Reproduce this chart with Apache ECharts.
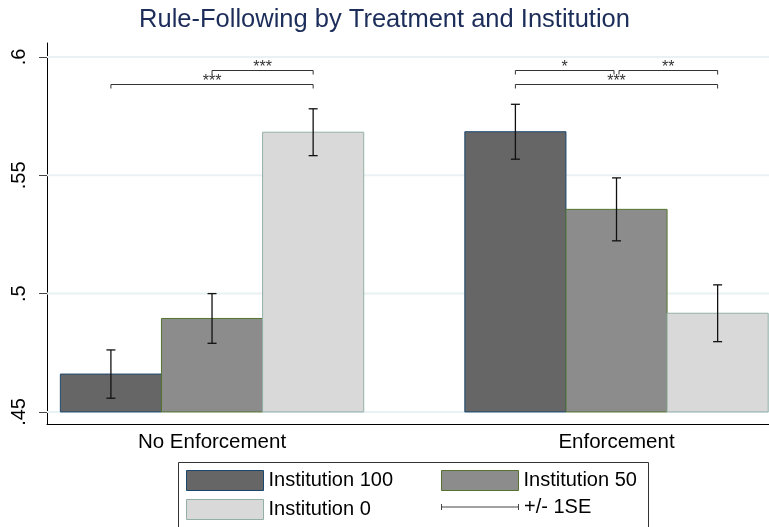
<!DOCTYPE html>
<html>
<head>
<meta charset="utf-8">
<title>Rule-Following by Treatment and Institution</title>
<script src="https://cdn.jsdelivr.net/npm/echarts@6/dist/echarts.min.js"></script>
<style>
  html, body { margin: 0; padding: 0; background: #fff; }
  #chart { width: 769px; height: 527px; }
</style>
</head>
<body>
<div id="chart"></div>
<script>
// groups on the x axis and the three institution bars inside each group
const groupNames = ['No Enforcement', 'Enforcement'];
const seriesNames = ['Institution 100', 'Institution 50', 'Institution 0'];

// means and standard errors, one value per group
const inst100Mean = [0.4660, 0.5684];
const inst50Mean = [0.4895, 0.5356];
const inst0Mean = [0.5682, 0.4917];
const inst100SE = [0.0102, 0.0116];
const inst50SE = [0.0105, 0.0133];
const inst0SE = [0.0099, 0.0120];

const baseValue = 0.45;
const yTicks = [0.45, 0.5, 0.55, 0.6];

// significance brackets: group, from bar, to bar, height, stars
const bracketGroup = [0, 0, 1, 1, 1];
const bracketFrom = [1, 0, 0, 1, 0];
const bracketTo = [2, 2, 1, 2, 2];
const bracketY = [0.5945, 0.5886, 0.5945, 0.5945, 0.5886];
const bracketStars = ['***', '***', '*', '**', '***'];

const FONT = '"Liberation Sans", Arial, Helvetica, sans-serif';
const BAR_W = 0.25;
const fills = ['#666666', '#8c8c8c', '#d9d9d9'];
const borders = ['#1a476f', '#55752f', '#93b0a8'];
const means = [inst100Mean, inst50Mean, inst0Mean];
const ses = [inst100SE, inst50SE, inst0SE];

function barX(g, i) {
  return g + (i - 1) * BAR_W;
}

const chart = echarts.init(document.getElementById('chart'));

const barSeries = seriesNames.map((name, i) => ({
  name: name,
  type: 'custom',
  z: 2,
  itemStyle: { color: fills[i], borderColor: borders[i], borderWidth: 1 },
  data: means[i].map((m, g) => [barX(g, i), m]),
  renderItem: (params, api) => {
    const x = api.value(0);
    const top = api.coord([x, api.value(1)]);
    const base = api.coord([x, baseValue]);
    const w = api.size([BAR_W, 0])[0];
    return {
      type: 'rect',
      shape: { x: top[0] - w / 2, y: top[1], width: w, height: base[1] - top[1] },
      style: { fill: fills[i], stroke: borders[i], lineWidth: 1 }
    };
  }
}));

const errData = [];
seriesNames.forEach((n, i) => {
  means[i].forEach((m, g) => errData.push([barX(g, i), m, ses[i][g]]));
});

const errSeries = {
  name: '+/- 1SE',
  type: 'custom',
  z: 4,
  itemStyle: { color: '#000' },
  data: errData,
  renderItem: (params, api) => {
    const x = api.value(0), m = api.value(1), se = api.value(2);
    const hi = api.coord([x, m + se]);
    const lo = api.coord([x, m - se]);
    const cap = 4.5;
    const st = { stroke: '#111', lineWidth: 1.3 };
    return {
      type: 'group',
      children: [
        { type: 'line', shape: { x1: hi[0], y1: hi[1], x2: lo[0], y2: lo[1] }, style: st },
        { type: 'line', shape: { x1: hi[0] - cap, y1: hi[1], x2: hi[0] + cap, y2: hi[1] }, style: st },
        { type: 'line', shape: { x1: lo[0] - cap, y1: lo[1], x2: lo[0] + cap, y2: lo[1] }, style: st }
      ]
    };
  }
};

const gridSeries = {
  type: 'custom',
  z: 1,
  silent: true,
  data: yTicks.map(v => [0, v]),
  renderItem: (params, api) => {
    const cs = params.coordSys;
    const y = api.coord([0, api.value(1)])[1];
    return {
      type: 'line',
      shape: { x1: cs.x, y1: y, x2: cs.x + cs.width, y2: y },
      style: { stroke: '#eaf1f3', lineWidth: 2 }
    };
  }
};

const bracketSeries = {
  type: 'custom',
  z: 5,
  silent: true,
  data: bracketStars.map((s, k) => [k]),
  renderItem: (params, api) => {
    const k = api.value(0);
    const g = bracketGroup[k], y = bracketY[k];
    let s1 = 0, s2 = 0;
    bracketStars.forEach((s, j) => {
      if (j === k || bracketGroup[j] !== g || bracketY[j] !== y) return;
      if (bracketTo[j] === bracketFrom[k]) s1 = 2.5;
      if (bracketFrom[j] === bracketTo[k]) s2 = -2.5;
    });
    const p1 = api.coord([barX(g, bracketFrom[k]), y]);
    const p2 = api.coord([barX(g, bracketTo[k]), y]);
    const x1 = p1[0] + s1, x2 = p2[0] + s2, py = Math.round(p1[1]) + 0.5;
    return {
      type: 'group',
      children: [
        {
          type: 'polyline',
          shape: { points: [[x1, py + 4], [x1, py], [x2, py], [x2, py + 4]] },
          style: { stroke: '#333', lineWidth: 1, fill: null }
        },
        {
          type: 'text',
          style: {
            text: bracketStars[k], x: (x1 + x2) / 2, y: py - 2.5,
            align: 'center', verticalAlign: 'middle',
            textAlign: 'center', textVerticalAlign: 'middle',
            font: '16px ' + FONT, fill: '#333'
          }
        }
      ]
    };
  }
};

function legendItem(name, i, left, top) {
  return {
    left: left, top: top, orient: 'horizontal', padding: 0,
    itemWidth: 77, itemHeight: 20, selectedMode: false,
    textStyle: { fontSize: 20, fontFamily: FONT, color: '#000' },
    data: [{ name: name, icon: 'rect', itemStyle: { color: fills[i], borderColor: borders[i], borderWidth: 1 } }]
  };
}

chart.setOption({
  backgroundColor: '#fff',
  animation: false,
  title: {
    text: 'Rule-Following by Treatment and Institution',
    left: 'center', top: 2,
    textStyle: { fontSize: 25.5, fontWeight: 'normal', color: '#1c2d5a', fontFamily: FONT }
  },
  graphic: [{
    type: 'rect', left: 176, top: 460, silent: true,
    shape: { width: 470, height: 65 },
    style: { fill: null, stroke: '#333', lineWidth: 1 }
  }],
  legend: [
    legendItem(seriesNames[0], 0, 186, 470),
    legendItem(seriesNames[1], 1, 441, 470),
    legendItem(seriesNames[2], 2, 186, 499),
    {
      left: 441, top: 497, padding: 0, itemWidth: 78, itemHeight: 6, selectedMode: false,
      textStyle: { fontSize: 20, fontFamily: FONT, color: '#000' },
      data: [{
        name: '+/- 1SE',
        icon: 'path://M0,0h1v6h-1z M0,2.5h78v1h-78z M77,0h1v6h-1z',
        itemStyle: { color: '#444' }
      }]
    }
  ],
  grid: { left: 47, right: 0, top: 43, bottom: 103, containLabel: false },
  xAxis: {
    type: 'value', min: -0.408, max: 1.377,
    axisLine: { show: true, onZero: false, lineStyle: { color: '#000', width: 1 } },
    axisTick: { show: false },
    splitLine: { show: false },
    axisLabel: {
      customValues: [0, 1],
      formatter: v => groupNames[Math.round(v)],
      fontSize: 20.5, fontFamily: FONT, color: '#000', margin: 8
    }
  },
  yAxis: {
    type: 'value', min: 0.4449, max: 0.6059,
    axisLine: { show: true, onZero: false, lineStyle: { color: '#000', width: 1 } },
    axisTick: { show: true, customValues: yTicks, length: 8, lineStyle: { color: '#444' } },
    splitLine: { show: false },
    axisLabel: {
      customValues: yTicks, rotate: 90, margin: 18,
      formatter: v => String(+v.toFixed(2)).replace(/^0/, ''),
      fontSize: 20, fontFamily: FONT, color: '#000'
    }
  },
  series: [gridSeries].concat(barSeries, [errSeries, bracketSeries])
});
</script>
</body>
</html>
